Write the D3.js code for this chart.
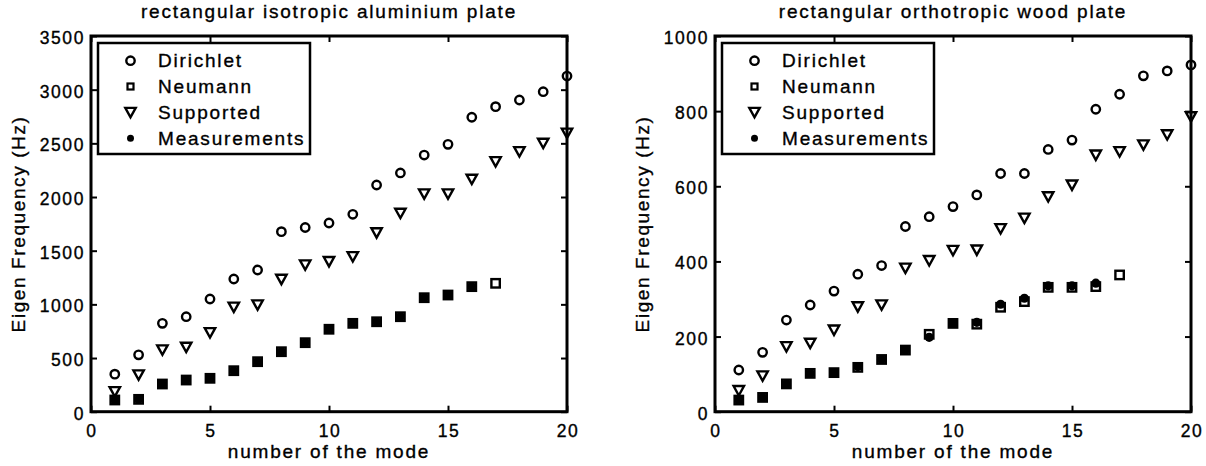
<!DOCTYPE html>
<html>
<head>
<meta charset="utf-8">
<script src="https://cdn.jsdelivr.net/npm/d3@7"></script>
<style>
html,body{margin:0;padding:0;background:#fff;}
svg{display:block;}
text{font-family:"Liberation Sans",Arial,Helvetica,sans-serif;fill:#000;stroke:#000;stroke-width:0.35px;}
</style>
</head>
<body>
<svg id="chart" width="1206" height="466"></svg>
<script>
// ---- data ----
const modes = [1,2,3,4,5,6,7,8,9,10,11,12,13,14,15,16,17,18,19,20];
const xTicks = [0,5,10,15,20];

const alTitle = "rectangular isotropic aluminium plate";
const alYTicks = [0,500,1000,1500,2000,2500,3000,3500];
const alDirichlet = [350,530,823,885,1050,1236,1320,1677,1716,1758,1839,2112,2224,2391,2491,2743,2842,2904,2981,3127];
const alNeumann   = [109,115,258,295,311,382,466,559,643,768,823,838,885,1062,1087,1165,1196];
const alSupported = [186,342,575,600,736,973,994,1233,1367,1398,1444,1666,1848,2028,2028,2165,2329,2422,2500,2594];
const alMeasured  = [109,115,258,295,311,382,466,559,643,768,823,838,885,1062,1087,1165];

const woodTitle = "rectangular orthotropic wood plate";
const woodYTicks = [0,200,400,600,800,1000];
const woodDirichlet = [111,158,244,284,321,366,389,493,519,546,577,634,634,698,723,805,845,894,907,923];
const woodNeumann   = [31,38,74,102,104,118,139,164,206,235,233,278,293,331,331,333,364];
const woodSupported = [56,95,173,182,217,279,284,382,402,429,430,487,515,572,603,683,692,710,737,785];
const woodMeasured  = [31,38,74,102,104,120,139,164,198,235,238,286,302,335,335,342];

const legendLabels = ["Dirichlet","Neumann","Supported","Measurements"];
const xLabel = "number of the mode";
const yLabel = "Eigen Frequency (Hz)";

// ---- drawing ----
const svg = d3.select("#chart");
const LS = "1.6px";

function marker(sel, kind) {
  if (kind === "circle") {
    sel.append("circle").attr("r", 4.2).attr("fill", "none").attr("stroke", "#000").attr("stroke-width", 2.4);
  } else if (kind === "square") {
    sel.append("rect").attr("x", -4.2).attr("y", -4.2).attr("width", 8.4).attr("height", 8.4)
      .attr("fill", "none").attr("stroke", "#000").attr("stroke-width", 2.4);
  } else if (kind === "tri") {
    sel.append("path").attr("d", "M-5.2,-4.6L5.2,-4.6L0,4.8Z")
      .attr("fill", "none").attr("stroke", "#000").attr("stroke-width", 2.4).attr("stroke-linejoin", "miter");
  } else if (kind === "dot") {
    sel.append("circle").attr("r", 4.6).attr("fill", "#000");
  }
}

function panel(left, title, yMax, yTicks, dir, neu, sup, meas) {
  const x0 = left, x1 = left + 476, yTop = 36, yBot = 411.7;
  const x = d3.scaleLinear().domain([0, 20]).range([x0, x1]);
  const y = d3.scaleLinear().domain([0, yMax]).range([yBot, yTop]);
  const g = svg.append("g");

  // title
  g.append("text").attr("x", (x0 + x1) / 2).attr("y", 18).attr("text-anchor", "middle")
    .style("font-size", "19px").style("letter-spacing", "1.8px").text(title);

  // axes (box, inward ticks)
  const axB = d3.axisBottom(x).tickValues(xTicks).tickSizeInner(-6).tickSizeOuter(0).tickFormat("");
  const axT = d3.axisTop(x).tickValues(xTicks).tickSizeInner(-6).tickSizeOuter(0).tickFormat("");
  const axL = d3.axisLeft(y).tickValues(yTicks).tickSizeInner(-6).tickSizeOuter(0).tickFormat("");
  const axR = d3.axisRight(y).tickValues(yTicks).tickSizeInner(-6).tickSizeOuter(0).tickFormat("");
  const axes = g.append("g");
  axes.append("g").attr("transform", `translate(0,${yBot})`).call(axB);
  axes.append("g").attr("transform", `translate(0,${yTop})`).call(axT);
  axes.append("g").attr("transform", `translate(${x0},0)`).call(axL);
  axes.append("g").attr("transform", `translate(${x1},0)`).call(axR);
  axes.selectAll(".domain").remove();
  axes.selectAll(".tick line").attr("stroke", "#000").attr("stroke-width", 2);
  g.append("rect").attr("x", x0).attr("y", yTop).attr("width", x1 - x0).attr("height", yBot - yTop)
    .attr("fill", "none").attr("stroke", "#000").attr("stroke-width", 3);

  // tick labels
  g.selectAll(".xl").data(xTicks).enter().append("text")
    .attr("x", d => x(d) + 1).attr("y", 437).attr("text-anchor", "middle")
    .style("font-size", "17.5px").style("letter-spacing", LS).text(d => d);
  g.selectAll(".yl").data(yTicks).enter().append("text")
    .attr("x", x0 - 6).attr("y", d => y(d) + 8).attr("text-anchor", "end")
    .style("font-size", "17.5px").style("letter-spacing", LS).text(d => d);

  // axis labels
  g.append("text").attr("x", (x0 + x1) / 2).attr("y", 458).attr("text-anchor", "middle")
    .style("font-size", "19px").style("letter-spacing", "1.8px").text(xLabel);
  g.append("text").attr("transform", `translate(${x0 - 66},224) rotate(-90)`).attr("text-anchor", "middle")
    .style("font-size", "19px").style("letter-spacing", LS).text(yLabel);

  // data
  const series = [[dir, "circle"], [neu, "square"], [sup, "tri"], [meas, "dot"]];
  series.forEach(([vals, kind]) => {
    g.append("g").selectAll("g").data(vals).enter().append("g")
      .attr("transform", (d, i) => `translate(${x(modes[i])},${y(d)})`)
      .each(function () { marker(d3.select(this), kind); });
  });

  // legend
  const lg = g.append("g");
  lg.append("rect").attr("x", x0 + 7).attr("y", 43).attr("width", 212).attr("height", 111)
    .attr("fill", "#fff").attr("stroke", "#000").attr("stroke-width", 2.5);
  const kinds = ["circle", "square", "tri", "dot"];
  const rowY = [60.7, 86.5, 112.5, 138.3];
  legendLabels.forEach((lab, i) => {
    const r = lg.append("g").attr("transform", `translate(${x0 + 39.5},${rowY[i]})`);
    if (kinds[i] === "dot") r.append("circle").attr("r", 3.5).attr("fill", "#000");
    else if (kinds[i] === "square") r.append("rect").attr("x", -3).attr("y", -3).attr("width", 6).attr("height", 6)
      .attr("fill", "none").attr("stroke", "#000").attr("stroke-width", 2.2);
    else marker(r, kinds[i]);
    lg.append("text").attr("x", x0 + 67).attr("y", rowY[i] + 6.7)
      .style("font-size", "19px").style("letter-spacing", "1.8px").text(lab);
  });
}

panel(91, alTitle, 3500, alYTicks, alDirichlet, alNeumann, alSupported, alMeasured);
panel(715, woodTitle, 1000, woodYTicks, woodDirichlet, woodNeumann, woodSupported, woodMeasured);
</script>
</body>
</html>
